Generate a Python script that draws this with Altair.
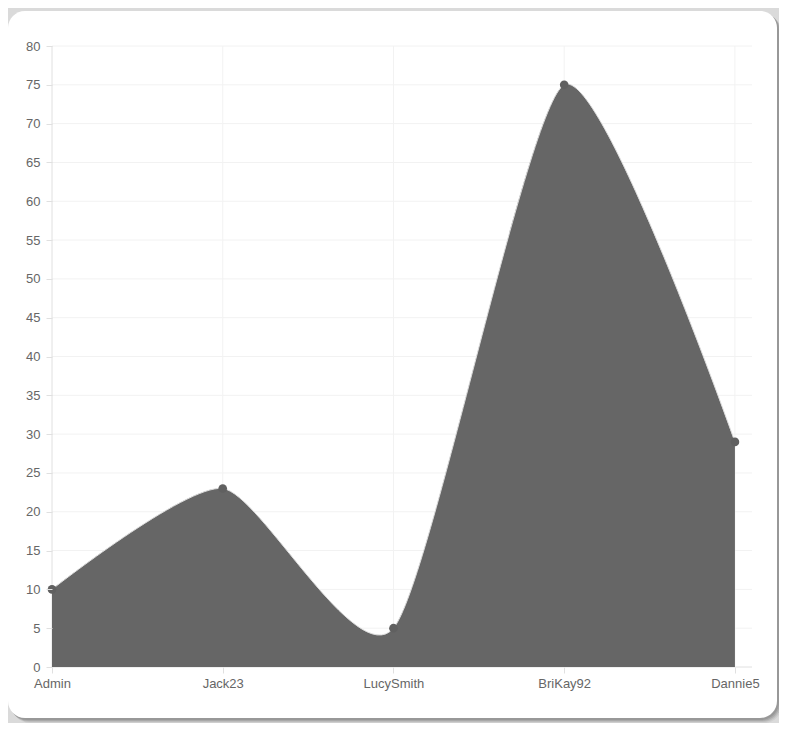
import json
import altair as alt
import pandas as pd

# ---- data ----
users = ["Admin", "Jack23", "LucySmith", "BriKay92", "Dannie5"]
counts = [10, 23, 5, 75, 29]
y_ticks = list(range(0, 81, 5))

df = pd.DataFrame({"idx": list(range(len(users))), "user": users, "count": counts})
grid_y = pd.DataFrame({"v": y_ticks})
one = pd.DataFrame({"a": [0]})

FONT = "Liberation Sans"
TXT = "#666666"
LINE = "#e0e0e0"
GRID = "#f2f2f2"

xs = alt.Scale(domain=[0, 4.1], nice=False, zero=False)
ys = alt.Scale(domain=[0, 80], nice=False)

label_expr = json.dumps(users) + "[datum.value]"


def x_axis():
    return alt.Axis(values=list(range(len(users))), labelExpr=label_expr, title=None,
                    grid=False, domain=False, tickSize=6, labelPadding=4, tickColor=LINE,
                    labelColor=TXT, labelFont=FONT, labelFontSize=13,
                    labelFlush=False, labelOverlap=False, zindex=2)


def y_axis():
    return alt.Axis(values=y_ticks, title=None, grid=False, domain=False, tickSize=6,
                    labelPadding=6, tickColor=LINE, labelColor=TXT, labelFont=FONT,
                    labelFontSize=13, labelFlush=False, labelOverlap=False, zindex=2)


# card decoration (shadow + white rounded card)
shadows = [
    alt.Chart(one).mark_rect(cornerRadius=18, color="#000000", opacity=op, clip=False).encode(
        x=alt.value(-44 + d), x2=alt.value(725 + d + 1), y=alt.value(-35 + d), y2=alt.value(672 + d + 1))
    for d, op in [(1, 0.10), (2, 0.10), (3, 0.08), (4, 0.05)]
]
card = alt.Chart(one).mark_rect(cornerRadius=17, color="#ffffff", clip=False).encode(
    x=alt.value(-44), x2=alt.value(725), y=alt.value(-35), y2=alt.value(672))

# grid lines; the ones at 0 double as the axis lines
gy = alt.Chart(grid_y).mark_rule(strokeWidth=1).encode(
    y=alt.Y("v:Q", scale=ys, axis=y_axis()),
    color=alt.condition("datum.v == 0", alt.value(LINE), alt.value(GRID)))
gx = alt.Chart(df).mark_rule(strokeWidth=1).encode(
    x=alt.X("idx:Q", scale=xs, axis=x_axis()),
    color=alt.condition("datum.idx == 0", alt.value(LINE), alt.value(GRID)))

enc = dict(x=alt.X("idx:Q", scale=xs, axis=x_axis()),
           y=alt.Y("count:Q", scale=ys, axis=y_axis()))

area = alt.Chart(df).mark_area(interpolate="cardinal", tension=0.35, color="#666666", opacity=1).encode(**enc)
line = alt.Chart(df).mark_line(interpolate="cardinal", tension=0.35, color="#dcdcdc", strokeWidth=1).encode(**enc)
pts = alt.Chart(df).mark_point(filled=True, size=75, color="#606060", opacity=1).encode(**enc)

chart = alt.layer(*shadows, card, gy, gx, area, line, pts).properties(
    width=700, height=621,
    autosize=alt.AutoSizeParams(type="none"),
    padding={"left": 44, "top": 38, "right": 27, "bottom": 56},
    background="#dadada",
).configure_view(stroke=None)

chart.save("out.html", embed_options={"renderer": "svg", "actions": False})
